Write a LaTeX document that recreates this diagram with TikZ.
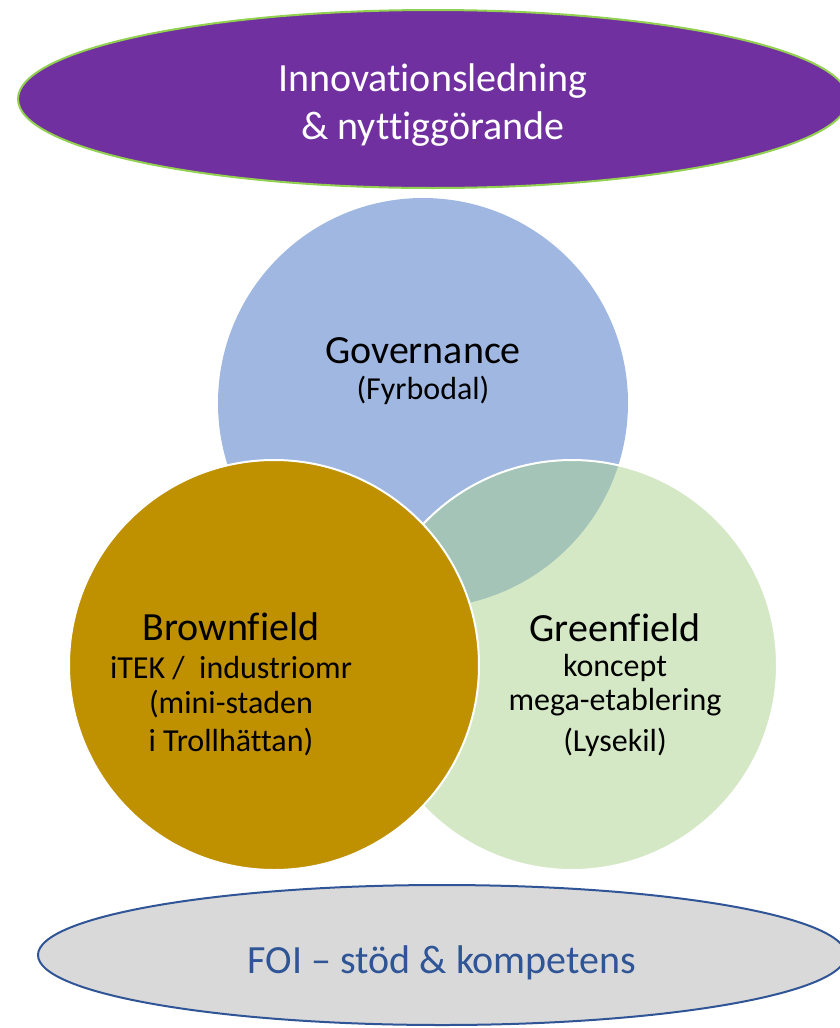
\documentclass[tikz,border=0pt]{standalone}
\usepackage{fontspec}
\setmainfont{Carlito}[Ligatures={NoCommon}]
\usetikzlibrary{shapes.geometric}
\definecolor{topfill}{HTML}{7030A0}
\definecolor{topline}{HTML}{92D050}
\definecolor{govfill}{HTML}{A0B8E1}
\definecolor{brownfill}{HTML}{BF9000}
\definecolor{greenfill}{HTML}{A9D18E}
\definecolor{botfill}{HTML}{D9D9D9}
\definecolor{botline}{HTML}{2F5597}
\tikzset{
  bigtxt/.style={anchor=base,font=\fontsize{40}{48}\selectfont,inner sep=0pt},
  smalltxt/.style={anchor=base,font=\fontsize{32}{38}\selectfont,inner sep=0pt},
  circ/.style={circle,minimum size=410pt,inner sep=0pt},
  oval/.style={ellipse,inner sep=0pt}
}
\begin{document}
\begin{tikzpicture}[x=1pt,y=-1pt]
\useasboundingbox (0,0) rectangle (840,1028);
% top ellipse
\node[oval,fill=topfill,draw=topline,line width=2pt,minimum width=830pt,minimum height=178pt] (top) at (433,99) {};
\node[bigtxt,text=white] (t1) at (433,91) {Innovationsledning};
\node[bigtxt,text=white] (t2) at (433,139) {\& nyttiggörande};
% circles
\node[circ,fill=govfill] (gov) at (423,403) {};
\node[circ,fill=greenfill,fill opacity=0.5,draw=white,draw opacity=1,line width=2pt] (green) at (572,665) {};
\node[circ,fill=brownfill,draw=white,line width=2pt] (brown) at (274,665) {};
% governance text
\node[bigtxt] (g1) at (423,363) {Governance};
\node[smalltxt] (g2) at (423,399) {(Fyrbodal)};
% brownfield text
\node[bigtxt] (b1) at (231,640) {Brownfield};
\node[smalltxt] (b2) at (231,678) {iTEK /\ \ industriomr};
\node[smalltxt] (b3) at (231,713) {(mini-staden};
\node[smalltxt] (b4) at (231,751) {i Trollhättan)};
% greenfield text
\node[bigtxt] (r1) at (615,641) {Greenfield};
\node[smalltxt] (r2) at (615,676) {koncept};
\node[smalltxt] (r3) at (615,710) {mega-etablering};
\node[smalltxt] (r4) at (615,751) {(Lysekil)};
% bottom ellipse
\node[oval,fill=botfill,draw=botline,line width=2pt,minimum width=808pt,minimum height=140pt] (bot) at (442,955) {};
\node[bigtxt,text=botline] (f1) at (442,973) {FOI – stöd \& kompetens};
\end{tikzpicture}
\end{document}
